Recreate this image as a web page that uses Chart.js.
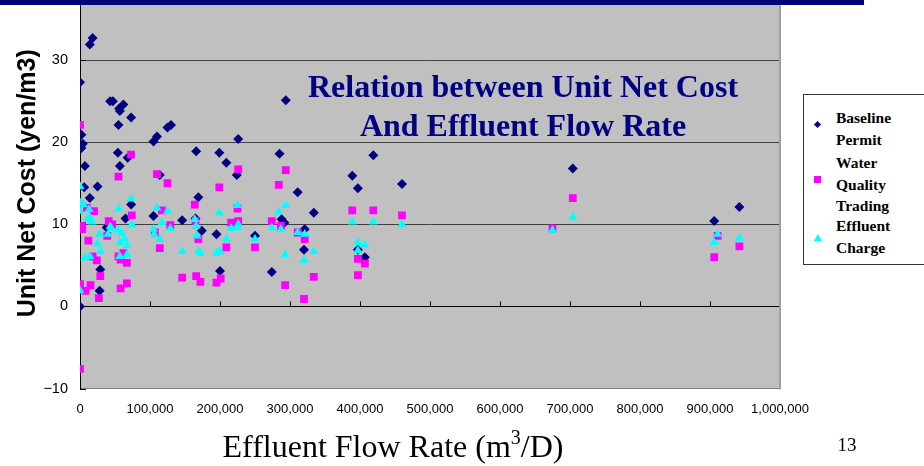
<!DOCTYPE html>
<html>
<head>
<meta charset="utf-8">
<script src="https://cdn.jsdelivr.net/npm/chart.js@4.4.1/dist/chart.umd.min.js"></script>
<style>
  html, body { margin:0; padding:0; background:#fff; }
  body { width:924px; height:466px; overflow:hidden; position:relative; }
  #c { position:absolute; left:0; top:-30px; }
  .bar { position:absolute; left:0; top:0; width:864px; height:5px; background:#000078; z-index:3; }
  .ctitle { position:absolute; left:273px; width:500px; top:67px; text-align:center;
            font:bold 32px "Liberation Serif", "Times New Roman", serif; line-height:39px; color:#000080; z-index:2; }
  .xtitle { position:absolute; left:193px; width:400px; top:430px; text-align:center;
            font:32px "Liberation Serif", "Times New Roman", serif; line-height:32px; color:#000; white-space:nowrap; }
  .xtitle sup { font-size:20px; vertical-align:13px; line-height:0; }
  .pnum { position:absolute; left:827px; width:40px; top:435px; text-align:center;
          font:19px "Liberation Serif", "Times New Roman", serif; line-height:19px; color:#000; }
  .legend { position:absolute; left:803px; top:94px; width:140px; height:169px; border:1px solid #333; background:#fff; z-index:2; }
  .litem { position:absolute; left:32px; width:80px; font:bold 15.5px "Liberation Serif", "Times New Roman", serif; line-height:21.5px; color:#000; }
  .mk { position:absolute; }
</style>
</head>
<body>
<canvas id="c" width="924" height="496"></canvas>
<div class="bar"></div>
<div class="ctitle" id="ctitle"></div>
<div class="xtitle">Effluent Flow Rate (m<sup>3</sup>/D)</div>
<div class="pnum">13</div>
<div class="legend" id="legend"></div>
<script>
// ---- data ----
const seriesNames = ["Baseline Permit", "Water Quality Trading", "Effluent Charge"];
const chartTitleLines = ["Relation between Unit Net Cost", "And Effluent Flow Rate"];
const yAxisTitle = "Unit Net Cost (yen/m3)";
const xTickValues = [0,100000,200000,300000,400000,500000,600000,700000,800000,900000,1000000];
const yTickValues = [-10,0,10,20,30];

const baselineFlow = [
  0,0,14000,18000,2000,4000,2000,43000,47000,56000,
  57000,62000,73000,55000,105000,110000,125000,130000,166000,199000,
  226000,54000,68000,294000,285000,419000,389000,397000,460000,311000,
  704000,906000,942000,57000,7000,114000,209000,224000,6000,25000,
  14000,73000,169000,65000,105000,146000,174000,195000,250000,38000,
  29000,200000,28000,334000,288000,292000,321000,320000,274000,397000,
  407000,165000];
const baselineCost = [
  0,27.3,31.9,32.7,20.9,19.8,19.3,25.0,25.0,24.1,
  23.8,24.6,23.0,22.1,20.1,20.7,21.8,22.1,18.9,18.7,
  20.4,18.7,18.1,25.1,18.6,18.4,15.9,14.4,14.9,13.9,
  16.8,10.4,12.1,17.1,17.1,16.0,17.5,16.0,14.5,14.6,
  13.2,12.4,13.3,10.7,11.0,10.5,9.2,8.8,8.6,9.6,
  4.5,4.3,1.9,11.4,10.6,10.2,9.4,6.9,4.2,6.9,
  6.0,10.7];

const tradingFlow = [
  0,73000,55000,110000,125000,226000,199000,164000,10000,20000,
  74000,117000,225000,3000,3000,41000,46000,12000,39000,114000,
  129000,107000,55000,58000,67000,24000,18000,62000,209000,250000,
  165000,226000,216000,169000,146000,166000,172000,195000,201000,29000,
  0,15000,8000,27000,58000,67000,0,284000,294000,389000,
  419000,460000,274000,287000,311000,321000,397000,407000,334000,397000,
  293000,320000,704000,675000,911000,906000,942000];
const tradingCost = [
  22.1,18.5,15.8,16.1,15.0,16.7,14.5,12.4,12.0,11.6,
  11.1,11.7,11.9,9.8,9.4,10.4,10.0,8.0,8.6,7.1,
  9.9,9.0,6.1,5.7,5.3,5.6,6.1,6.5,7.2,7.2,
  10.4,10.4,10.2,8.2,3.5,3.7,3.0,2.9,3.4,3.7,
  2.7,2.6,1.9,1.0,2.2,2.8,-7.6,14.8,16.6,11.7,
  11.7,11.1,10.4,9.8,9.0,8.2,5.8,5.2,3.6,3.8,
  2.6,0.9,13.2,9.5,8.6,6.0,7.3];

const chargeFlow = [
  0,1000,5000,0,13000,10000,17000,14000,73000,55000,
  110000,125000,74000,43000,45000,28000,40000,55000,60000,64000,
  25000,67000,57000,29000,67000,57000,7000,14000,105000,106000,
  114000,117000,129000,146000,164000,166000,167000,170000,172000,195000,
  200000,199000,209000,216000,225000,226000,225000,250000,0,294000,
  284000,274000,287000,311000,321000,293000,334000,320000,389000,419000,
  460000,397000,407000,397000,704000,675000,911000,906000,942000];
const chargeCost = [
  14.6,12.6,12.4,11.6,11.8,10.6,10.3,10.9,13.1,11.9,
  12.0,11.6,10.0,9.7,9.5,8.8,8.8,9.3,8.9,8.2,
  7.6,7.4,7.8,6.7,6.3,6.1,5.9,6.1,9.4,8.8,
  8.2,10.2,9.5,6.7,10.6,9.8,8.6,6.7,6.5,6.5,
  6.7,11.4,8.2,9.5,12.3,10.0,9.6,8.2,1.9,12.3,
  11.5,9.6,9.4,9.0,8.8,6.3,6.7,5.6,10.3,10.3,
  10.0,7.8,7.5,6.8,10.9,9.3,8.8,7.8,8.3];

// ---- styles ----
const colors = ["#000080", "#FF00FF", "#00FFFF"];
const toPoints = (xs, ys) => xs.map((x, i) => ({ x: x, y: ys[i] }));

document.getElementById('ctitle').innerHTML = chartTitleLines.join('<br>');

const plotDecor = {
  id: 'plotDecor',
  beforeDraw(c) {
    const { ctx, chartArea: a } = c;
    ctx.save();
    ctx.fillStyle = '#C0C0C0';
    ctx.fillRect(a.left, a.top, a.right - a.left, a.bottom - a.top);
    ctx.restore();
  },
  beforeDatasetsDraw(c) {
    const { ctx, chartArea: a, scales: { x, y } } = c;
    ctx.save();
    ctx.strokeStyle = '#000';
    ctx.lineWidth = 1;
    yTickValues.forEach(v => {
      const py = Math.round(y.getPixelForValue(v)) + 0.5;
      ctx.beginPath(); ctx.moveTo(a.left, py); ctx.lineTo(a.left + 6, py); ctx.stroke();
    });
    const y0 = Math.round(y.getPixelForValue(0)) + 0.5;
    xTickValues.forEach(v => {
      const px = Math.round(x.getPixelForValue(v)) + 0.5;
      ctx.beginPath(); ctx.moveTo(px, y0); ctx.lineTo(px, y0 - 5); ctx.stroke();
    });
    ctx.restore();
  },
  afterDraw(c) {
    const { ctx, chartArea: a } = c;
    ctx.save();
    ctx.fillStyle = '#A0A0A0';
    ctx.fillRect(Math.round(a.right) - 1, a.top, 2, a.bottom - a.top + 1);
    ctx.restore();
  }
};

new Chart(document.getElementById('c'), {
  type: 'scatter',
  data: {
    datasets: [
      { label: seriesNames[0], data: toPoints(baselineFlow, baselineCost), pointStyle: 'rectRot',
        pointRadius: 5, backgroundColor: colors[0], borderColor: colors[0], borderWidth: 0, order: 2 },
      { label: seriesNames[1], data: toPoints(tradingFlow, tradingCost), pointStyle: 'rect',
        pointRadius: 5.5, backgroundColor: colors[1], borderColor: colors[1], borderWidth: 0, order: 1 },
      { label: seriesNames[2], data: toPoints(chargeFlow, chargeCost), pointStyle: 'triangle',
        pointRadius: 5.2, backgroundColor: colors[2], borderColor: colors[2], borderWidth: 0, order: 0 }
    ]
  },
  options: {
    responsive: false,
    animation: false,
    devicePixelRatio: 1,
    layout: { padding: { left: 0, right: 144, top: 8, bottom: 0 } },
    plugins: { legend: { display: false }, tooltip: { enabled: false }, title: { display: false } },
    scales: {
      x: {
        type: 'linear', min: 0, max: 1000000,
        afterBuildTicks: s => { s.ticks = xTickValues.map(v => ({ value: v })); },
        ticks: { color: '#000', font: { family: '"Liberation Sans", Arial, sans-serif', size: 13 },
                 padding: 13, maxRotation: 0, autoSkip: false },
        grid: { display: false, drawTicks: false },
        border: { display: false },
        afterFit: s => { s.height = 77.5; s.paddingLeft = 0; s.paddingRight = 0; }
      },
      y: {
        min: -10, max: 40,
        afterBuildTicks: s => { s.ticks = yTickValues.map(v => ({ value: v })); },
        ticks: { color: '#000', font: { family: '"Liberation Sans", Arial, sans-serif', size: 14.5 },
                 padding: 12, callback: v => (v < 0 ? '\u2212' + Math.abs(v) : String(v)) },
        grid: { drawTicks: false, lineWidth: 1,
                color: ctx => ctx.tick.value === 0 ? '#000' : (ctx.tick.value === -10 ? '#808080' : '#404040') },
        border: { display: true, color: '#000', width: 1 },
        title: { display: true, text: yAxisTitle, color: '#000',
                 font: { family: '"Liberation Sans", Arial, sans-serif', size: 25, weight: 'bold' },
                 padding: { top: 13, bottom: 0 } },
        afterFit: s => { s.width = 80; s.paddingTop = 0; s.paddingBottom = 0; }
      }
    }
  },
  plugins: [plotDecor]
});

// ---- legend ----
const legend = document.getElementById('legend');
const itemTops = [12, 57, 120];
const markerHtml = [
  '<div class="mk" style="left:11px;top:27px;width:5px;height:5px;background:#000080;transform:rotate(45deg)"></div>',
  '<div class="mk" style="left:10px;top:81px;width:7px;height:7px;background:#FF00FF"></div>',
  '<div class="mk" style="left:10px;top:139px;width:0;height:0;border-left:4px solid transparent;border-right:4px solid transparent;border-bottom:7px solid #00FFFF"></div>'
];
seriesNames.forEach((name, i) => {
  const d = document.createElement('div');
  d.className = 'litem';
  d.style.top = itemTops[i] + 'px';
  d.textContent = name;
  legend.appendChild(d);
  legend.insertAdjacentHTML('beforeend', markerHtml[i]);
});
</script>
</body>
</html>
